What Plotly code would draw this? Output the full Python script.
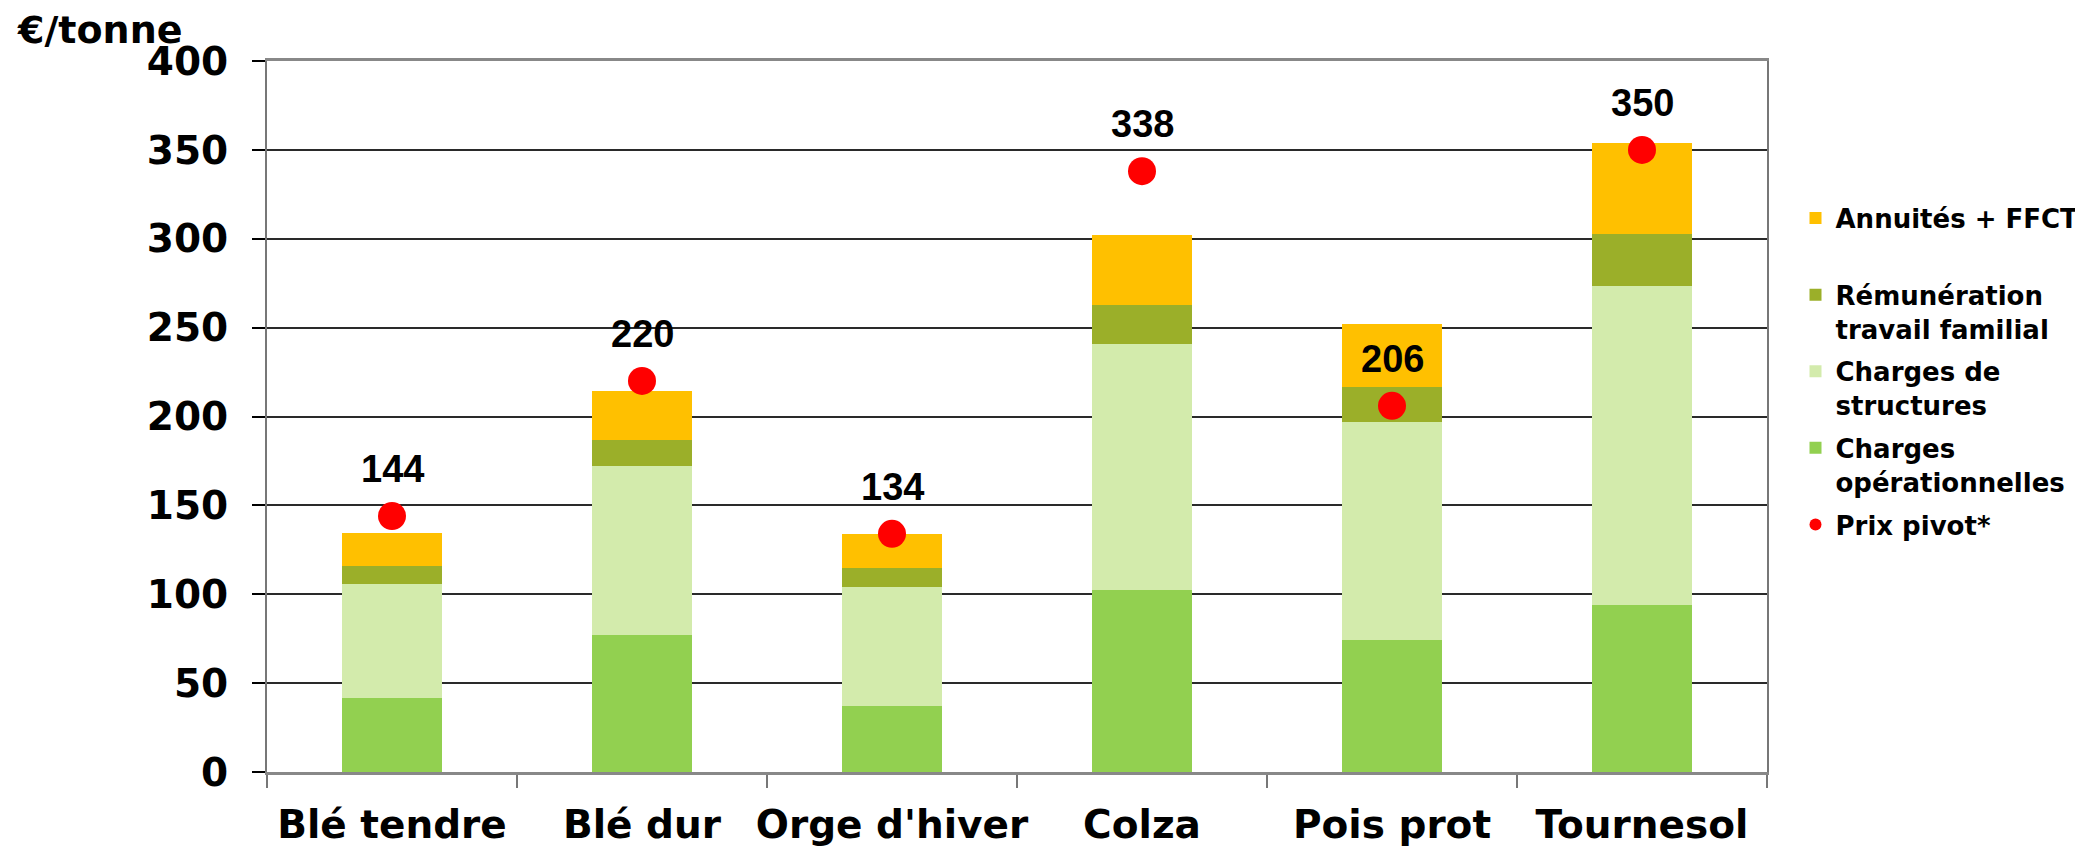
import plotly.graph_objects as go

categories = ["Blé tendre", "Blé dur", "Orge d'hiver", "Colza", "Pois prot", "Tournesol"]
charges_operationnelles = [41.4, 77.1, 37.4, 102.4, 74.0, 93.8]
charges_structures = [64.4, 94.8, 66.9, 138.4, 123.0, 179.8]
remuneration_travail = [10.1, 15.0, 10.7, 21.9, 19.6, 28.8]
annuites_ffct = [18.5, 27.5, 18.9, 39.5, 35.3, 51.7]
prix_pivot = [144, 220, 134, 338, 206, 350]
y_ticks = [0, 50, 100, 150, 200, 250, 300, 350, 400]

AXIS_FONT = "DejaVu Sans"
LABEL_FONT = "Liberation Sans"

fig = go.Figure()

series = [
    ("Charges<br>opérationnelles", charges_operationnelles, "#92D050", 4),
    ("Charges de<br>structures", charges_structures, "#D3EBAC", 3),
    ("Rémunération<br>travail familial", remuneration_travail, "#9BAF29", 2),
    ("Annuités + FFCT<br> ", annuites_ffct, "#FFC000", 1),
]
for name, vals, color, rank in series:
    fig.add_trace(go.Bar(
        x=categories, y=vals, name=name, legendrank=rank,
        legendgroup="g%d" % rank,
        marker=dict(color=color, line=dict(width=0)),
        width=0.4, hoverinfo="y",
    ))

fig.add_trace(go.Scatter(
    x=categories, y=prix_pivot, name="Prix pivot*", legendrank=5,
    legendgroup="g5",
    mode="markers",
    marker=dict(color="#FF0000", size=28),
    cliponaxis=False,
))

label_annotations = [
    dict(
        x=c, y=v, xref="x", yref="y", text=str(v), showarrow=False,
        yshift=47, xanchor="center", yanchor="middle",
        font=dict(family=LABEL_FONT, size=38, color="black", weight="bold"),
    )
    for c, v in zip(categories, prix_pivot)
]

fig.update_layout(
    width=2075, height=839,
    margin=dict(l=259, r=316, t=53, b=75, autoexpand=False),
    barmode="stack",
    plot_bgcolor="white",
    paper_bgcolor="white",
    showlegend=True,
    legend=dict(
        x=1.019, xanchor="left", y=0.812, yanchor="top",
        traceorder="grouped", tracegroupgap=6, valign="top",
        font=dict(family=AXIS_FONT, size=26, color="black", weight="bold"),
        itemsizing="constant",
        bgcolor="rgba(0,0,0,0)",
    ),
    xaxis=dict(
        type="category",
        tickson="boundaries",
        ticks="outside", ticklen=13, tickwidth=1.5, tickcolor="#777777",
        showline=True, linecolor="#888888", linewidth=3, mirror=True,
        showgrid=False,
        tickangle=0, automargin=False,
        ticklabelstandoff=16,
        tickfont=dict(family=AXIS_FONT, size=39, color="black", weight="bold"),
    ),
    yaxis=dict(
        range=[0, 400],
        tickvals=y_ticks,
        ticks="outside", ticklen=13, tickwidth=1.5, tickcolor="black",
        ticklabelposition="outside",
        ticklabelstandoff=16,
        showline=True, linecolor="#777777", linewidth=2, mirror=True,
        showgrid=True, gridcolor="#2a2a2a", gridwidth=1.5,
        zeroline=False, automargin=False,
        tickfont=dict(family=AXIS_FONT, size=39, color="black", weight="bold"),
    ),
    annotations=[dict(
        text="€/tonne", xref="paper", yref="paper",
        x=-0.168, y=1.043, xanchor="left", yanchor="middle",
        showarrow=False,
        font=dict(family=AXIS_FONT, size=38, color="black", weight="bold"),
    )] + label_annotations,
)

fig.write_html("out.html")
